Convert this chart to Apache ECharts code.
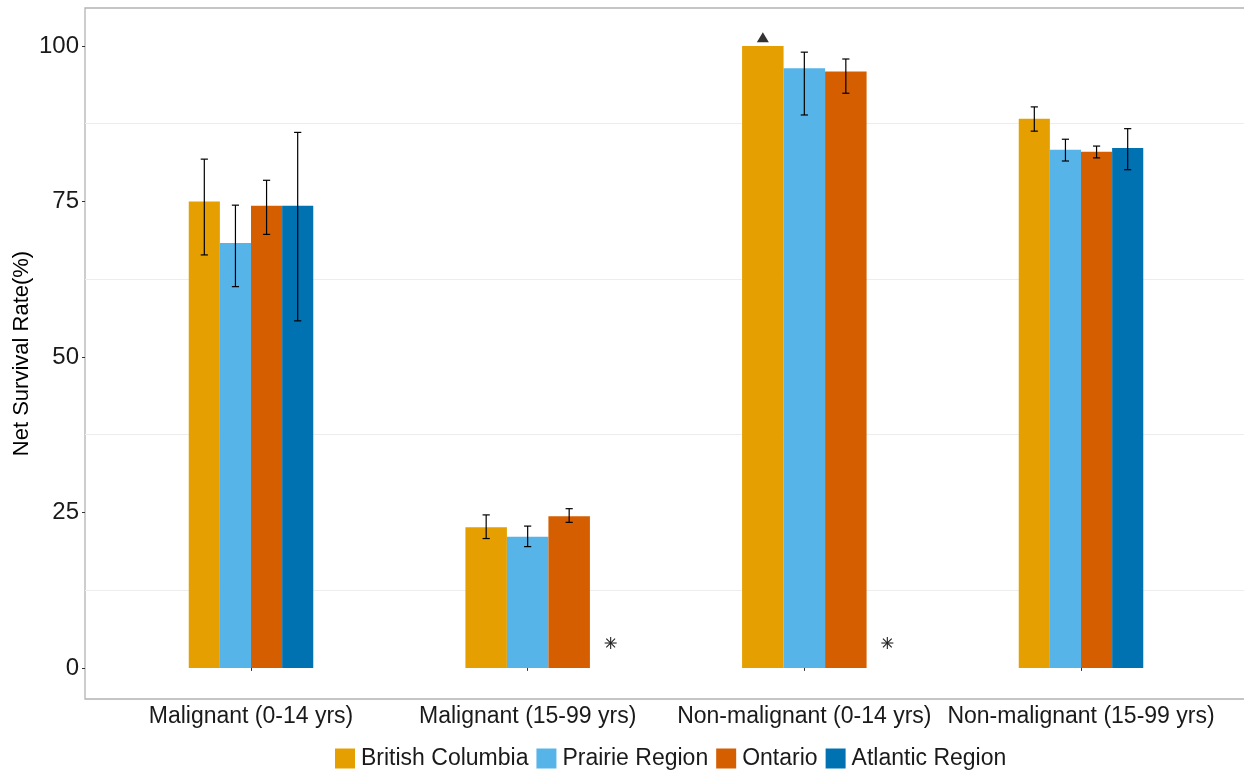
<!DOCTYPE html>
<html>
<head>
<meta charset="utf-8">
<script src="https://cdn.jsdelivr.net/npm/echarts@6/dist/echarts.min.js"></script>
<style>
  html, body { margin: 0; padding: 0; background: #ffffff; }
  #chart { width: 1244px; height: 770px; }
</style>
</head>
<body>
<div id="chart"></div>
<script>
// Five-year net survival by tumour group and region
const categories = ['Malignant (0-14 yrs)', 'Malignant (15-99 yrs)', 'Non-malignant (0-14 yrs)', 'Non-malignant (15-99 yrs)'];
const regions = ['British Columbia', 'Prairie Region', 'Ontario', 'Atlantic Region'];
const regionColors = ['#E69F00', '#56B4E9', '#D55E00', '#0072B2'];

// Net survival estimates (%) with 95% confidence limits; null = not reported
const bcRate  = [75.0, 22.6, 100.0, 88.3];
const bcLower = [66.4, 20.8, null, 86.3];
const bcUpper = [81.8, 24.6, null, 90.2];

const prRate  = [68.3, 21.1, 96.4, 83.3];
const prLower = [61.3, 19.5, 88.9, 81.5];
const prUpper = [74.4, 22.8, 99.0, 85.0];

const onRate  = [74.3, 24.4, 95.9, 83.0];
const onLower = [69.7, 23.4, 92.4, 82.0];
const onUpper = [78.4, 25.6, 97.9, 83.9];

const atRate  = [74.3, null, null, 83.6];
const atLower = [55.8, null, null, 80.1];
const atUpper = [86.1, null, null, 86.7];

// Markers: triangle = estimate capped at 100 (British Columbia, group 3); asterisk = suppressed
const cappedMarkValue = 101.4;
const suppressedCategories = [1, 2];
const suppressedMarkValue = 4;

const yTicks = [0, 25, 50, 75, 100];
const yMinorGrid = [12.5, 37.5, 62.5, 87.5];

const rates = [bcRate, prRate, onRate, atRate];
const lowers = [bcLower, prLower, onLower, atLower];
const uppers = [bcUpper, prUpper, onUpper, atUpper];

const GROUP_WIDTH = 0.45;

// dodge slot of each region within a category (missing regions leave no gap)
function slotInfo(ci, ri) {
  let n = 0, slot = -1;
  for (let r = 0; r < regions.length; r++) {
    if (rates[r][ci] != null) {
      if (r === ri) slot = n;
      n++;
    }
  }
  return { slot, n };
}

function barCenterX(ci, ri) {
  const s = slotInfo(ci, ri);
  const bw = GROUP_WIDTH / s.n;
  return (ci + 1) - GROUP_WIDTH / 2 + bw * (s.slot + 0.5);
}

function renderBar(params, api) {
  const cat = api.value(0), val = api.value(1), slot = api.value(2), n = api.value(3);
  const lo = api.value(4), hi = api.value(5);
  const unit = api.size([1, 0])[0];
  const gw = GROUP_WIDTH * unit;
  const bw = gw / n;
  const base = api.coord([cat, 0]);
  const top = api.coord([cat, val]);
  const x0 = base[0] - gw / 2 + slot * bw;
  const children = [{
    type: 'rect',
    shape: { x: x0, y: top[1], width: bw, height: base[1] - top[1] },
    style: { fill: api.visual('color') }
  }];
  if (lo != null && hi != null && !isNaN(lo) && !isNaN(hi)) {
    const cx = x0 + bw / 2;
    const yl = api.coord([cat, lo])[1];
    const yh = api.coord([cat, hi])[1];
    const cap = 3.6;
    const st = { stroke: '#000000', lineWidth: 1.2 };
    children.push(
      { type: 'line', shape: { x1: cx, y1: yl, x2: cx, y2: yh }, style: st, z2: 10 },
      { type: 'line', shape: { x1: cx - cap, y1: yl, x2: cx + cap, y2: yl }, style: st, z2: 10 },
      { type: 'line', shape: { x1: cx - cap, y1: yh, x2: cx + cap, y2: yh }, style: st, z2: 10 }
    );
  }
  return { type: 'group', children };
}

function renderAsterisk(params, api) {
  const p = api.coord([api.value(0), api.value(1)]);
  const r = 6, d = 4.4;
  const st = { stroke: '#222222', lineWidth: 1.1 };
  return {
    type: 'group',
    children: [
      { type: 'line', shape: { x1: p[0] - r, y1: p[1], x2: p[0] + r, y2: p[1] }, style: st },
      { type: 'line', shape: { x1: p[0], y1: p[1] - r, x2: p[0], y2: p[1] + r }, style: st },
      { type: 'line', shape: { x1: p[0] - d, y1: p[1] - d, x2: p[0] + d, y2: p[1] + d }, style: st },
      { type: 'line', shape: { x1: p[0] - d, y1: p[1] + d, x2: p[0] + d, y2: p[1] - d }, style: st }
    ]
  };
}

const barSeries = regions.map((name, ri) => {
  const data = [];
  categories.forEach((c, ci) => {
    const v = rates[ri][ci];
    if (v == null) return;
    const s = slotInfo(ci, ri);
    data.push([ci + 1, v, s.slot, s.n,
      lowers[ri][ci] == null ? NaN : lowers[ri][ci],
      uppers[ri][ci] == null ? NaN : uppers[ri][ci]]);
  });
  return {
    name,
    type: 'custom',
    renderItem: renderBar,
    itemStyle: { color: regionColors[ri] },
    encode: { x: 0, y: 1 },
    data,
    z: 3
  };
});

const FONT = 'Liberation Sans, Arial, sans-serif';

const option = {
  animation: false,
  backgroundColor: '#ffffff',
  textStyle: { fontFamily: FONT },
  grid: {
    left: 85, top: 8, right: -3, bottom: 71,
    outerBoundsMode: 'none',
    containLabel: false,
    show: true, borderColor: '#b3b3b3', borderWidth: 1.3, backgroundColor: 'transparent'
  },
  legend: {
    data: regions,
    left: 330, bottom: -5,
    icon: 'rect',
    itemWidth: 20, itemHeight: 20,
    itemGap: 8,
    textStyle: { fontSize: 23, color: '#1a1a1a', fontFamily: FONT, padding: [0, 0, 0, 1] }
  },
  xAxis: {
    type: 'value',
    min: 0.4, max: 4.6,
    axisLine: { show: false },
    splitLine: { show: false },
    axisTick: { show: true, customValues: [1, 2, 3, 4], length: 3, lineStyle: { color: '#333333' } },
    axisLabel: {
      customValues: [1, 2, 3, 4],
      formatter: v => categories[Math.round(v) - 1],
      fontSize: 23, color: '#1a1a1a', margin: 6, fontFamily: FONT
    }
  },
  yAxis: {
    type: 'value',
    min: -5, max: 106.1,
    name: 'Net Survival Rate(%)',
    nameLocation: 'middle',
    nameGap: 52,
    nameMoveOverlap: false,
    nameTextStyle: { fontSize: 22, color: '#000000', fontFamily: FONT },
    axisLine: { show: false },
    splitLine: { show: false },
    axisTick: { show: true, customValues: yTicks, length: 3, lineStyle: { color: '#333333' } },
    axisLabel: { customValues: yTicks, fontSize: 24, color: '#1a1a1a', margin: 6, fontFamily: FONT }
  },
  series: [
    ...barSeries,
    {
      name: 'capped',
      type: 'scatter',
      symbol: 'triangle',
      symbolSize: [12, 10],
      itemStyle: { color: '#000000' },
      data: [[barCenterX(2, 0), cappedMarkValue]],
      z: 5,
      markLine: {
        silent: true,
        symbol: 'none',
        label: { show: false },
        lineStyle: { color: '#ededed', width: 1, type: 'solid' },
        data: yMinorGrid.map(v => ({ yAxis: v })),
        z: 1
      }
    },
    {
      name: 'suppressed',
      type: 'custom',
      renderItem: renderAsterisk,
      encode: { x: 0, y: 1 },
      data: suppressedCategories.map(ci => [ci + 1 + 0.3, suppressedMarkValue]),
      z: 5
    }
  ]
};

const chart = echarts.init(document.getElementById('chart'), null, { renderer: 'canvas' });
chart.setOption(option);
</script>
</body>
</html>
